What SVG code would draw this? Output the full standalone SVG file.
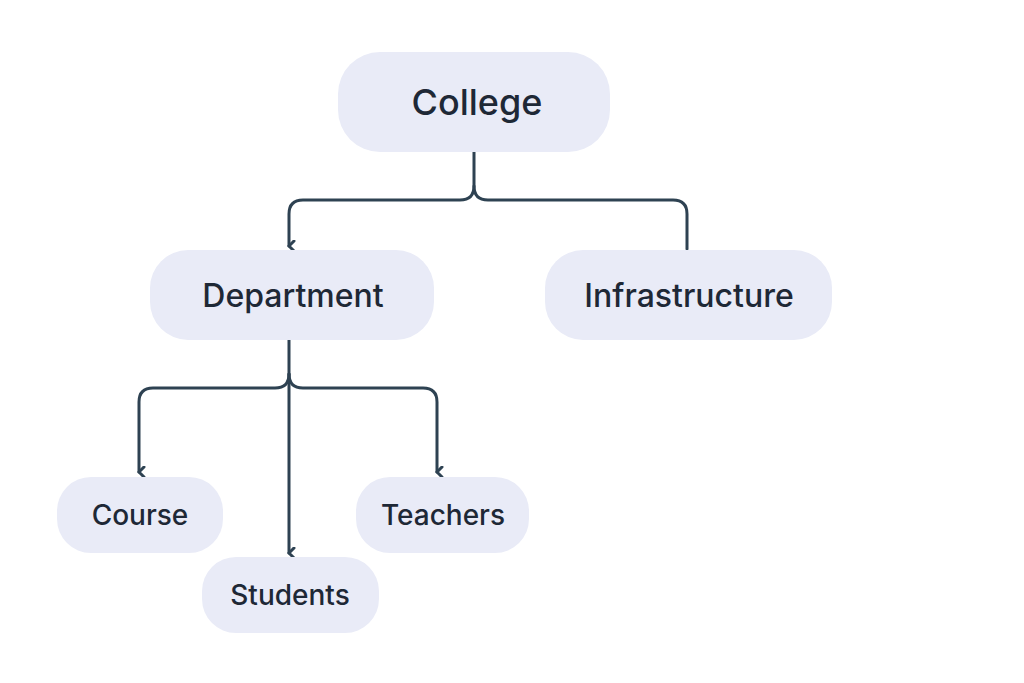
<svg xmlns="http://www.w3.org/2000/svg" width="1024" height="683" viewBox="0 0 1024 683">
<style>
.n{fill:#e9ebf7;}
.t{font-family:Inter,"Liberation Sans",sans-serif;fill:#1e2836;text-anchor:middle;font-weight:500;}
.c{fill:none;stroke:#2e4252;stroke-width:3;stroke-linecap:round;stroke-linejoin:round;}
</style>
<defs><marker id="a" viewBox="0 0 12 12" refX="6" refY="10" markerWidth="12" markerHeight="12" markerUnits="userSpaceOnUse" orient="auto-start-reverse"><path d="M1,5 L6,10 L11,5" fill="none" stroke="#2e4252" stroke-width="3" stroke-linecap="round"/></marker></defs>
<rect width="1024" height="683" fill="#fff"/>
<g id="connectors">
<path class="c" d="M474,152 V186 Q474,200 460,200 H303 Q289,200 289,214 V246" marker-end="url(#a)"/>
<path class="c" d="M474,186 Q474,200 488,200 H673 Q687,200 687,214 V249"/>
<path class="c" d="M289,340 V374 Q289,388 275,388 H153 Q139,388 139,402 V472" marker-end="url(#a)"/>
<path class="c" d="M289,374 Q289,388 303,388 H423 Q437,388 437,402 V472" marker-end="url(#a)"/>
<path class="c" d="M289,374 V553" marker-end="url(#a)"/>
</g>
<g id="college"><rect class="n" x="338" y="52" width="272" height="100" rx="42"/><text class="t" x="477" y="115" font-size="36">College</text></g>
<g id="department"><rect class="n" x="150" y="250" width="284" height="90" rx="38"/><text class="t" x="293" y="307" font-size="32">Department</text></g>
<g id="infrastructure"><rect class="n" x="545" y="250" width="287" height="90" rx="38"/><text class="t" x="689" y="307" font-size="32">Infrastructure</text></g>
<g id="course"><rect class="n" x="57" y="477" width="166" height="76" rx="34"/><text class="t" x="140" y="525" font-size="28">Course</text></g>
<g id="students"><rect class="n" x="202" y="557" width="177" height="76" rx="34"/><text class="t" x="290" y="605" font-size="28">Students</text></g>
<g id="teachers"><rect class="n" x="356" y="477" width="173" height="76" rx="34"/><text class="t" x="443" y="525" font-size="28">Teachers</text></g>
</svg>
